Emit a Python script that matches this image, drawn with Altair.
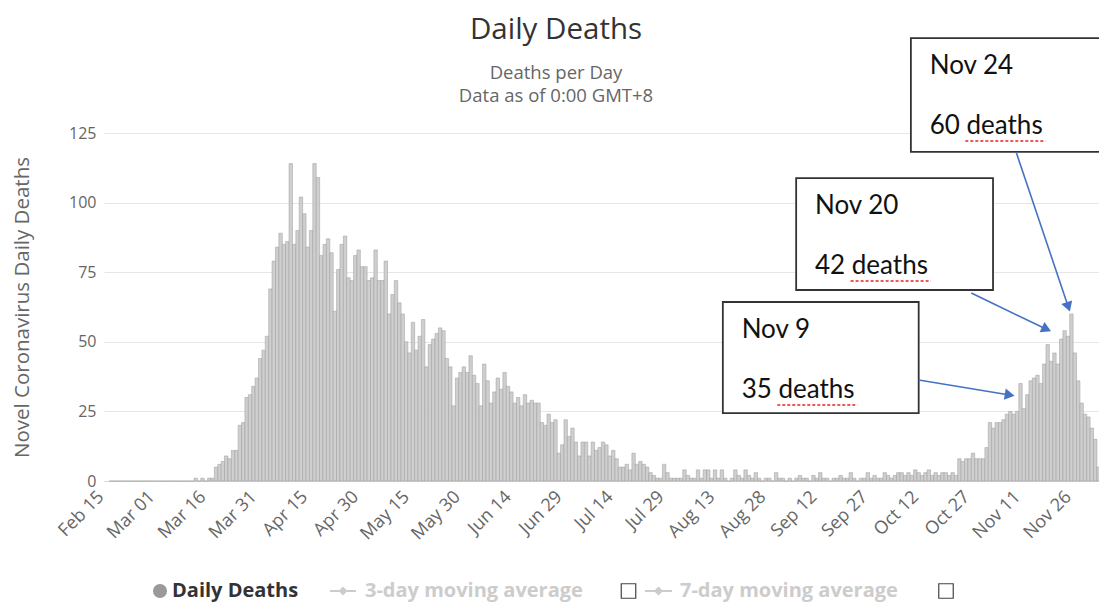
import math
import altair as alt
import pandas as pd

# ---------------- data ----------------
# daily deaths, one value per day starting Feb 15
DEATHS = [
    0, 0, 0, 0, 0, 0, 0, 0, 0, 0,
    0, 0, 0, 0, 0, 0, 0, 0, 0, 0,
    0, 0, 0, 0, 0, 1, 0, 1, 0, 1,
    1, 5, 6, 7, 9, 8, 11, 11, 20, 21,
    30, 31, 34, 37, 44, 47, 52, 69, 79, 84,
    89, 85, 86, 114, 85, 90, 102, 96, 84, 90,
    114, 109, 81, 85, 87, 82, 61, 76, 85, 88,
    73, 72, 81, 83, 77, 77, 72, 73, 83, 72,
    72, 79, 60, 67, 72, 64, 60, 50, 46, 57,
    47, 52, 58, 41, 49, 51, 53, 55, 54, 44,
    41, 27, 37, 39, 41, 39, 45, 38, 35, 27,
    42, 36, 28, 32, 37, 33, 39, 34, 32, 28,
    30, 27, 31, 28, 29, 28, 28, 21, 20, 24,
    21, 22, 10, 13, 22, 16, 19, 14, 9, 14,
    14, 9, 14, 11, 12, 14, 13, 9, 11, 8,
    5, 5, 6, 4, 10, 6, 7, 6, 5, 3,
    2, 1, 1, 6, 3, 1, 1, 1, 1, 4,
    2, 1, 1, 4, 1, 4, 4, 1, 4, 1,
    4, 1, 0, 1, 4, 2, 1, 4, 2, 1,
    3, 1, 0, 1, 1, 0, 3, 1, 1, 0,
    1, 0, 1, 2, 1, 1, 0, 2, 1, 3,
    1, 1, 0, 1, 1, 2, 1, 1, 3, 1,
    0, 1, 1, 3, 1, 2, 1, 1, 3, 2,
    1, 2, 3, 3, 2, 3, 2, 4, 3, 2,
    3, 4, 2, 3, 2, 3, 3, 2, 3, 2,
    8, 7, 8, 8, 10, 8, 8, 8, 12, 21,
    19, 21, 21, 22, 24, 25, 24, 25, 35, 26,
    31, 36, 37, 38, 35, 42, 49, 43, 46, 42,
    51, 54, 52, 60, 46, 36, 28, 24, 23, 19,
    15, 5, 22,
]
TICK_LABELS = ["Feb 15", "Mar 01", "Mar 16", "Mar 31", "Apr 15", "Apr 30",
               "May 15", "May 30", "Jun 14", "Jun 29", "Jul 14", "Jul 29",
               "Aug 13", "Aug 28", "Sep 12", "Sep 27", "Oct 12", "Oct 27",
               "Nov 11", "Nov 26"]
TICK_STEP_DAYS = 15
Y_TICKS = [0, 25, 50, 75, 100, 125]
TITLE = "Daily Deaths"
SUBTITLE = ["Deaths per Day", "Data as of 0:00 GMT+8"]
Y_TITLE = "Novel Coronavirus Daily Deaths"
LEGEND_LABELS = ["Daily Deaths", "3-day moving average", "7-day moving average"]
NOTE_DATES = ["Nov 24", "Nov 20", "Nov 9"]
NOTE_DEATHS = [60, 42, 35]

# ---------------- layout ----------------
W, H = 995, 348
X_DOMAIN = [-0.55, 289.65]
Y_DOMAIN = [0, 125]
PPD = W / (X_DOMAIN[1] - X_DOMAIN[0])   # px per day
PPU = H / (Y_DOMAIN[1] - Y_DOMAIN[0])   # px per death
FONT = "Open Sans"
NOTE_FONT = "Lato"
GREY_TEXT = "#666666"
ARROW_BLUE = "#4472C4"

# annotation boxes in data units: (left day, right day, top value, bottom value)
BOXES = [(235.7, 294.0, 159.1, 118.2),
         (201.9, 259.9, 108.8, 68.6),
         (180.3, 238.0, 64.3, 24.4)]
# arrows in data units: (start day, start value, end day, end value)
ARROWS = [(266.7, 118.2, 282.7, 60.3),
          (253.5, 67.5, 277.4, 53.5),
          (238.0, 36.3, 266.7, 30.5)]

df = pd.DataFrame({"day": list(range(len(DEATHS))), "deaths": DEATHS})

labels_js = "[" + ",".join("'%s'" % t for t in TICK_LABELS) + "]"
tick_values = [i * TICK_STEP_DAYS for i in range(len(TICK_LABELS))]

x_scale = alt.Scale(domain=X_DOMAIN, nice=False, zero=False)
y_scale = alt.Scale(domain=Y_DOMAIN, nice=False)

x_axis = alt.Axis(
    values=tick_values, labelExpr=labels_js + "[round(datum.value / %d)]" % TICK_STEP_DAYS,
    labelAngle=315, labelAlign="right", labelBaseline="middle",
    labelPadding=13, labelOffset=-10, labelFontSize=18, labelColor=GREY_TEXT,
    labelFont=FONT, labelFlush=False, labelOverlap=False,
    grid=False, ticks=False, domain=True, domainColor="#ccd6eb", domainWidth=1,
    title=None)
y_axis = alt.Axis(
    values=Y_TICKS, grid=True, gridColor="#e6e6e6", gridWidth=1,
    domain=False, ticks=False, labelFontSize=16, labelColor=GREY_TEXT,
    labelFont=FONT, labelPadding=8, labelFlush=False,
    title=Y_TITLE, titleFontSize=20.5, titleColor=GREY_TEXT,
    titleFontWeight="normal", titleFont=FONT, titleX=-82, titleY=H / 2,
    titleAngle=270, titleAlign="center", titleBaseline="middle")


def X(field):
    return alt.X(field, scale=x_scale, axis=x_axis)


def Y(field):
    return alt.Y(field, scale=y_scale, axis=y_axis)


bars = alt.Chart(df).mark_bar(
    size=PPD, fill="#cfcfcf", stroke="#9a9a9a", strokeWidth=0.5
).encode(x=X("day:Q"), y=Y("deaths:Q"))

layers = [bars]

# ---- annotation boxes ----
box_rows, text_rows, squiggle_rows = [], [], []
for (x1, x2, yt, yb), d, n in zip(BOXES, NOTE_DATES, NOTE_DEATHS):
    box_rows.append({"x1": x1, "x2": x2, "yt": yt, "yb": yb})
    tx = x1 + 19 / PPD
    text_rows.append({"tx": tx, "ty": yt - 28 / PPU, "t": d})
    text_rows.append({"tx": tx, "ty": yt - 88 / PPU, "t": "%d deaths" % n})
    squiggle_rows.append({"sx1": tx + 36 / PPD, "sx2": tx + 117 / PPD, "sy": yt - 103 / PPU})

layers.append(alt.Chart(pd.DataFrame(box_rows)).mark_rect(
    fill="white", stroke="#333333", strokeWidth=1.8
).encode(x=X("x1:Q"), x2="x2:Q", y=Y("yt:Q"), y2="yb:Q"))

layers.append(alt.Chart(pd.DataFrame(text_rows)).mark_text(
    align="left", baseline="middle", font=NOTE_FONT, fontSize=26, color="#111111"
).encode(x=X("tx:Q"), y=Y("ty:Q"), text="t:N"))

layers.append(alt.Chart(pd.DataFrame(squiggle_rows)).mark_rule(
    color="#e8231f", strokeWidth=1.5, strokeDash=[3, 2]
).encode(x=X("sx1:Q"), x2="sx2:Q", y=Y("sy:Q")))

# ---- arrows ----
HEAD_SIZE = 130
tip = 1.155 * math.sqrt(HEAD_SIZE) / 2
for (sx, sy, ex, ey) in ARROWS:
    dx = (ex - sx) * PPD
    dy = -(ey - sy) * PPU
    ln = math.hypot(dx, dy)
    ux, uy = dx / ln, dy / ln
    cx = ex - ux * tip / PPD
    cy = ey + uy * tip / PPU
    ang = (math.degrees(math.atan2(dx, -dy)) + 360) % 360
    seg = pd.DataFrame({"ax": [sx], "ay": [sy], "bx": [cx], "by": [cy]})
    layers.append(alt.Chart(seg).mark_rule(color=ARROW_BLUE, strokeWidth=1.6).encode(
        x=X("ax:Q"), x2="bx:Q", y=Y("ay:Q"), y2="by:Q"))
    layers.append(alt.Chart(seg).mark_point(
        shape="triangle-up", filled=True, size=HEAD_SIZE, color=ARROW_BLUE,
        opacity=1, angle=ang
    ).encode(x=X("bx:Q"), y=Y("by:Q")))


# ---- title & subtitle (pixel positions relative to the plot origin) ----
def text_layer(txt, x, y, size, color, weight="normal", align="center", baseline="alphabetic"):
    return alt.Chart(pd.DataFrame({"t": [txt]})).mark_text(
        align=align, baseline=baseline, font=FONT, fontSize=size,
        color=color, fontWeight=weight
    ).encode(x=alt.value(x), y=alt.value(y), text="t:N")


layers.append(text_layer(TITLE, 452, -94, 29.5, "#333333"))
layers.append(text_layer(SUBTITLE[0], 452, -54, 18.5, GREY_TEXT))
layers.append(text_layer(SUBTITLE[1], 452, -31, 18.5, GREY_TEXT))

# ---- legend ----
LY = 458
one = pd.DataFrame({"k": [0]})
layers.append(alt.Chart(one).mark_point(
    shape="circle", filled=True, size=196, color="#999999", opacity=1
).encode(x=alt.value(56), y=alt.value(LY)))
layers.append(text_layer(LEGEND_LABELS[0], 68, LY, 20, "#333333", "bold", "left", "middle"))
for lx, rx in [(226, 252), (541, 568)]:
    layers.append(alt.Chart(one).mark_rule(color="#cccccc", strokeWidth=2).encode(
        x=alt.value(lx), x2=alt.value(rx), y=alt.value(LY)))
    layers.append(alt.Chart(one).mark_point(
        shape="diamond", filled=True, size=80, color="#cccccc", opacity=1
    ).encode(x=alt.value((lx + rx) / 2), y=alt.value(LY)))
layers.append(text_layer(LEGEND_LABELS[1], 261, LY, 20, "#cccccc", "bold", "left", "middle"))
layers.append(text_layer(LEGEND_LABELS[2], 576, LY, 20, "#cccccc", "bold", "left", "middle"))
for cbx in [524.5, 842]:
    layers.append(alt.Chart(one).mark_point(
        shape="square", filled=False, size=210, color="#444444", strokeWidth=1.2, opacity=1
    ).encode(x=alt.value(cbx), y=alt.value(LY)))

chart = alt.layer(*layers).properties(
    width=W, height=H,
    padding={"left": 96, "top": 125, "right": 0, "bottom": 121},
    autosize=alt.AutoSizeParams(type="none"),
).configure(font=FONT).configure_view(stroke=None)

chart.save("out.html", embed_options={"renderer": "svg", "actions": False})
